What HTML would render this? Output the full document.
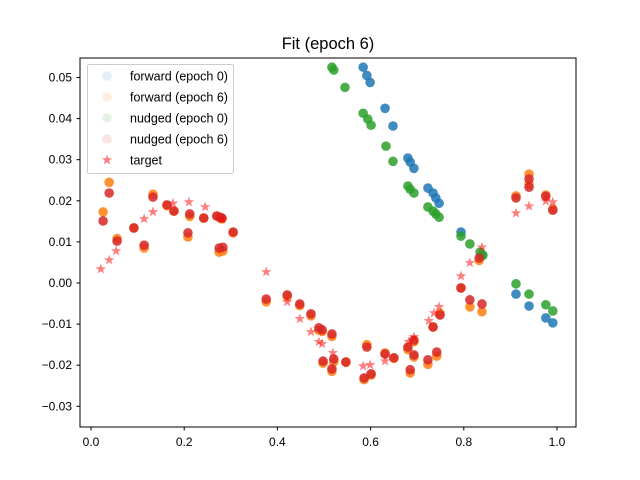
<!DOCTYPE html>
<html><head><meta charset="utf-8"><style>
body{margin:0;background:#fff;}
svg{display:block;font-family:"Liberation Sans","DejaVu Sans",sans-serif;}
</style></head><body>
<svg id="chart" width="640" height="480">
<rect width="640" height="480" fill="#fff"/>
<text x="328" y="49" text-anchor="middle" font-size="16.5">Fit (epoch 6)</text>
<g id="marks"></g>
<rect x="80" y="58" width="496" height="369" fill="none" stroke="#000" stroke-width="1"/>
<g id="axes"></g>
<g id="legend"></g>
</svg>
<script>
const xTicks=[0.0,0.2,0.4,0.6,0.8,1.0];
const xTickLabels=["0.0","0.2","0.4","0.6","0.8","1.0"];
const yTicks=[-0.03,-0.02,-0.01,0,0.01,0.02,0.03,0.04,0.05];
const yTickLabels=["−0.03","−0.02","−0.01","0.00","0.01","0.02","0.03","0.04","0.05"];

const fwd0X=[.584,.592,.599,.631,.648,.680,.685,.693,.723,.734,.740,.747,.794,.839,.912,.940,.976,.991];
const fwd0Y=[.0525,.0505,.0488,.0425,.0382,.0304,.0294,.0279,.0231,.0219,.0207,.0194,.0124,.0066,-.0027,-.0056,-.0085,-.0097];

const nud0X=[.517,.521,.545,.584,.594,.601,.633,.648,.680,.685,.693,.723,.734,.740,.747,.794,.813,.835,.841,.912,.940,.976,.991];
const nud0Y=[.0525,.0518,.0476,.0413,.0399,.0384,.0333,.0296,.0236,.0228,.0219,.0185,.0175,.0168,.0160,.0114,.0095,.0075,.0068,-.0002,-.0027,-.0053,-.0068];

const ep6X=[.026,.039,.056,.092,.114,.133,.163,.178,.208,.212,.242,.270,.277,.281,.275,.283,.305,.376,.421,.448,.472,.489,.496,.517,.498,.521,.547,.517,.592,.586,.601,.631,.650,.680,.693,.693,.685,.723,.742,.734,.749,.794,.813,.839,.833,.912,.940,.940,.976,.991];
const nud6Y=[.0151,.0219,.0102,.0134,.0092,.0209,.0190,.0175,.0122,.0168,.0158,.0163,.0160,.0158,.0085,.0087,.0124,-.0039,-.0029,-.0051,-.0075,-.0109,-.0114,-.0124,-.0190,-.0185,-.0192,-.0209,-.0156,-.0231,-.0221,-.0173,-.0182,-.0156,-.0139,-.0175,-.0211,-.0187,-.0168,-.0107,-.0078,-.0012,-.0041,-.0051,.0061,.0207,.0253,.0233,.0211,.0177];
const fwd6Y=[.0173,.0245,.0108,.0134,.0085,.0216,.0188,.0175,.0112,.0162,.0158,.0163,.0158,.0156,.0075,.0078,.0122,-.0046,-.0033,-.0055,-.0080,-.0115,-.0118,-.0130,-.0195,-.0192,-.0193,-.0215,-.0150,-.0235,-.0224,-.0170,-.0183,-.0162,-.0143,-.0180,-.0219,-.0198,-.0178,-.0107,-.0074,-.0012,-.0058,-.0070,.0055,.0212,.0265,.0240,.0214,.0180];

const tgtX=[.021,.039,.054,.114,.133,.176,.210,.245,.281,.376,.421,.448,.472,.489,.496,.519,.584,.599,.631,.682,.693,.725,.736,.747,.794,.813,.839,.912,.940,.976,.991];
const tgtY=[.0034,.0056,.0078,.0156,.0173,.0194,.0197,.0185,.0156,.0027,-.0046,-.0087,-.0119,-.0143,-.0148,-.0170,-.0202,-.0199,-.0190,-.0143,-.0131,-.0092,-.0073,-.0058,.0017,.0049,.0087,.0170,.0187,.0199,.0197];

const NS="http://www.w3.org/2000/svg";
function sx(v){return 91+v*466;}
function sy(v){return 283-v*4110;}
const marks=document.getElementById('marks');
const axes=document.getElementById('axes');
function circ(parent,x,y,color,op){const c=document.createElementNS(NS,'circle');c.setAttribute('cx',x);c.setAttribute('cy',y);c.setAttribute('r',4.8);c.setAttribute('fill',color);c.setAttribute('fill-opacity',op);parent.appendChild(c);return c;}
function starPts(cx,cy,R){let p=[];for(let i=0;i<10;i++){const r=i%2?R*0.4:R;const a=-Math.PI/2+i*Math.PI/5;p.push((cx+r*Math.cos(a)).toFixed(2)+','+(cy+r*Math.sin(a)).toFixed(2));}return p.join(' ');}
function star(parent,x,y,op){const s=document.createElementNS(NS,'polygon');s.setAttribute('points',starPts(x,y,5.5));s.setAttribute('fill','#ff0000');s.setAttribute('fill-opacity',op);parent.appendChild(s);return s;}

fwd0X.forEach((v,i)=>{const c=circ(marks,sx(v),sy(fwd0Y[i]),'#1f77b4',0.85);

});
ep6X.forEach((v,i)=>{const c=circ(marks,sx(v),sy(fwd6Y[i]),'#ff7f0e',0.85);

});
nud0X.forEach((v,i)=>{const c=circ(marks,sx(v),sy(nud0Y[i]),'#2ca02c',0.85);

});
ep6X.forEach((v,i)=>{const c=circ(marks,sx(v),sy(nud6Y[i]),'#d62728',0.85);

});
tgtX.forEach((v,i)=>{const s=star(marks,sx(v),sy(tgtY[i]),0.5);

});

xTicks.forEach((v,i)=>{const x=sx(v);
const l=document.createElementNS(NS,'line');l.setAttribute('x1',x);l.setAttribute('x2',x);l.setAttribute('y1',427);l.setAttribute('y2',430.5);l.setAttribute('stroke','#000');axes.appendChild(l);
const t=document.createElementNS(NS,'text');t.setAttribute('x',x);t.setAttribute('y',446);t.setAttribute('text-anchor','middle');t.setAttribute('font-size','12');t.textContent=xTickLabels[i];


axes.appendChild(t);});
yTicks.forEach((v,i)=>{const y=sy(v);
const l=document.createElementNS(NS,'line');l.setAttribute('x1',76.5);l.setAttribute('x2',80);l.setAttribute('y1',y);l.setAttribute('y2',y);l.setAttribute('stroke','#000');axes.appendChild(l);
const t=document.createElementNS(NS,'text');t.setAttribute('x',72);t.setAttribute('y',y+4);t.setAttribute('text-anchor','end');t.setAttribute('font-size','12');t.textContent=yTickLabels[i];


axes.appendChild(t);});

const leg=document.getElementById('legend');
const box=document.createElementNS(NS,'rect');box.setAttribute('x',87.5);box.setAttribute('y',64.5);box.setAttribute('width',146);box.setAttribute('height',109);box.setAttribute('rx',2);box.setAttribute('fill','#fff');box.setAttribute('fill-opacity','0.8');box.setAttribute('stroke','#ccc');leg.appendChild(box);
const legLabels=["forward (epoch 0)","forward (epoch 6)","nudged (epoch 0)","nudged (epoch 6)","target"];
const legColors=["#1f77b4","#ff7f0e","#2ca02c","#d62728","#ff0000"];
legLabels.forEach((lab,i)=>{const y=76+i*21;
let m;
if(i<4){m=circ(leg,107,y,legColors[i],0.12);}else{m=star(leg,107,y,0.5);}


const t=document.createElementNS(NS,'text');t.setAttribute('x',130);t.setAttribute('y',y+4.5);t.setAttribute('font-size','12.5');t.textContent=lab;


leg.appendChild(t);});
</script>
</body></html>
